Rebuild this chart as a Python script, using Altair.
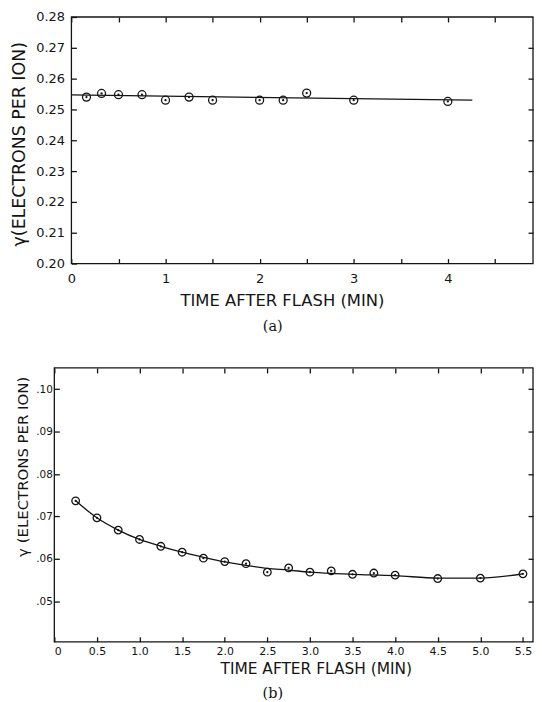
import altair as alt
import pandas as pd

# ---------------- data ----------------
# panel (a)
a_time = [0.16, 0.32, 0.5, 0.75, 1.0, 1.25, 1.5, 2.0, 2.25, 2.5, 3.0, 4.0]
a_gamma = [0.2540, 0.2552, 0.2548, 0.2548, 0.2530, 0.2540, 0.2530, 0.2530,
           0.2530, 0.2553, 0.2530, 0.2526]
a_fit_time = [0.0, 4.26]
a_fit_gamma = [0.2547, 0.2530]

# panel (b)
b_time = [0.25, 0.5, 0.75, 1.0, 1.25, 1.5, 1.75, 2.0, 2.25, 2.5, 2.75, 3.0,
          3.25, 3.5, 3.75, 4.0, 4.5, 5.0, 5.5]
b_gamma = [0.0737, 0.0697, 0.0668, 0.0646, 0.0630, 0.0616, 0.0602, 0.0594,
           0.0589, 0.0569, 0.0579, 0.0569, 0.0572, 0.0564, 0.0567, 0.0562,
           0.0554, 0.0555, 0.0565]
b_fit_time = [0.25, 0.5, 0.75, 1.0, 1.25, 1.5, 1.75, 2.0, 2.25, 2.5, 2.75,
              3.0, 3.25, 3.5, 4.0, 4.5, 5.0, 5.5]
b_fit_gamma = [0.0737, 0.0697, 0.0668, 0.0646, 0.0630, 0.0616, 0.0604, 0.0593,
               0.0585, 0.0578, 0.0574, 0.0569, 0.0566, 0.0564, 0.0561, 0.0555,
               0.0555, 0.0565]

# axis ticks / labels
a_xticks = [0, 0.5, 1, 1.5, 2, 2.5, 3, 3.5, 4, 4.5]
a_yticks = [0.20, 0.21, 0.22, 0.23, 0.24, 0.25, 0.26, 0.27, 0.28]
a_rticks = [0.21, 0.22, 0.23, 0.24, 0.25, 0.26, 0.27]
b_xticks = [0, 0.5, 1.0, 1.5, 2.0, 2.5, 3.0, 3.5, 4.0, 4.5, 5.0, 5.5]
b_yticks = [0.05, 0.06, 0.07, 0.08, 0.09, 0.10]

a_xdom = [-0.1816, 4.905]
a_ydom = [0.20, 0.28]
b_xdom = [0.0, 5.618]
b_ydom = [0.0405, 0.105]

x_title = "TIME AFTER FLASH (MIN)"
a_ytitle = "\u03b3(ELECTRONS PER ION)"
b_ytitle = "\u03b3 (ELECTRONS PER ION)"

INK = "#141414"
SANS = "DejaVu Sans"
SERIF = "DejaVu Serif"
RING = ("M-1,0A1,1 0 1,1 1,0A1,1 0 1,1 -1,0Z"
        "M-0.13,0A0.13,0.13 0 1,1 0.13,0A0.13,0.13 0 1,1 -0.13,0Z")

a_pts = pd.DataFrame({"t": a_time, "g": a_gamma})
a_fit = pd.DataFrame({"t": a_fit_time, "g": a_fit_gamma})
b_pts = pd.DataFrame({"t": b_time, "g": b_gamma})
b_fit = pd.DataFrame({"t": b_fit_time, "g": b_fit_gamma})


def panel(pts, fit, xdom, ydom, frame_x0, xticks, yticks, rticks,
          xlab_expr, ylab_expr, ytitle, width, height, left_off,
          xlab_size, ylab_size, xlabpad, ylabpad, xtitle_size, xtitle_pad,
          xtitle_x, ytitle_size, ytitle_pad, ytitle_y, caption, cap_off,
          interp, psize):
    xs = alt.Scale(domain=xdom, nice=False, zero=False)
    ys = alt.Scale(domain=ydom, nice=False, zero=False)

    frame = alt.Chart(alt.InlineData(values=[{}])).mark_rect(
        fillOpacity=0, stroke=INK, strokeWidth=1.3
    ).encode(
        x=alt.XDatum(frame_x0, scale=xs, axis=None),
        x2=alt.X2Datum(xdom[1]),
        y=alt.YDatum(ydom[0], scale=ys, axis=None),
        y2=alt.Y2Datum(ydom[1]),
    )

    line = alt.Chart(fit).mark_line(
        color=INK, strokeWidth=1.3, interpolate=interp
    ).encode(
        x=alt.X("t:Q", scale=xs, axis=alt.Axis(
            orient="top", values=xticks, labels=False, domain=False,
            grid=False, tickSize=5, offset=-5, title=None,
            tickColor=INK, tickWidth=1.3, minExtent=0)),
        y=alt.Y("g:Q", scale=ys, axis=alt.Axis(
            orient="right", values=rticks, labels=False, domain=False,
            grid=False, tickSize=5, offset=-5, title=None,
            tickColor=INK, tickWidth=1.3, minExtent=0)),
    )

    xax = alt.Axis(
        orient="bottom", values=xticks, labelExpr=xlab_expr,
        domain=False, grid=False, tickSize=5, offset=-5,
        tickColor=INK, tickWidth=1.3, labelPadding=xlabpad,
        labelFontSize=xlab_size, labelFont=SANS, labelColor=INK,
        labelOverlap=False, title=x_title,
        titleFont=SANS, titleFontSize=xtitle_size,
        titleFontWeight="normal", titleColor=INK,
        titlePadding=xtitle_pad, titleX=xtitle_x, titleAlign="center",
        minExtent=0)
    yax = alt.Axis(
        orient="left", values=yticks, labelExpr=ylab_expr,
        domain=False, grid=False, tickSize=5, offset=left_off,
        tickColor=INK, tickWidth=1.3, labelPadding=ylabpad,
        labelFontSize=ylab_size, labelFont=SANS, labelColor=INK,
        labelOverlap=False, title=ytitle, titleFont=SANS,
        titleFontSize=ytitle_size, titleFontWeight="normal",
        titleColor=INK, titlePadding=ytitle_pad, titleY=ytitle_y,
        titleAlign="center", minExtent=0)

    points = alt.Chart(pts).mark_point(
        shape=RING, filled=False, color=INK, strokeWidth=1.3, size=psize,
        opacity=1
    ).encode(
        x=alt.X("t:Q", scale=xs, axis=xax),
        y=alt.Y("g:Q", scale=ys, axis=yax),
    )

    return alt.layer(frame, line, points).resolve_axis(
        x="independent", y="independent"
    ).properties(
        width=width, height=height,
        title=alt.TitleParams(caption, orient="bottom", font=SERIF,
                              fontSize=14.5, fontWeight="normal", color=INK,
                              offset=cap_off, dx=-21),
    )


top = panel(a_pts, a_fit, a_xdom, a_ydom, 0.0, a_xticks, a_yticks, a_rticks,
            "datum.value % 1 == 0 ? format(datum.value, 'd') : ''",
            "format(datum.value, '.2f')",
            a_ytitle, 481.5, 248, -22.2,
            13, 13, 9, 7, 16.5, 7, 229, 17.5, 7, 127.5, "(a)", 11,
            "linear", 64)

bottom = panel(b_pts, b_fit, b_xdom, b_ydom, 0.0, b_xticks, b_yticks,
               b_yticks,
               "datum.value == 0 ? '0' : format(datum.value, '.1f')",
               "substring(format(datum.value, '.2f'), 1)",
               b_ytitle, 481.5, 275.5, -5,
               11, 10.5, 4, 2, 15.5, 5, 263, 15, 5, 99, "(b)", 10,
               "monotone", 58)

chart = alt.vconcat(top, bottom, spacing=34).properties(
    padding={"left": 2.6, "top": 1, "right": 0, "bottom": 0},
    background="white",
).configure_view(stroke=None)

chart.save("out.html", embed_options={"renderer": "svg", "actions": False})
